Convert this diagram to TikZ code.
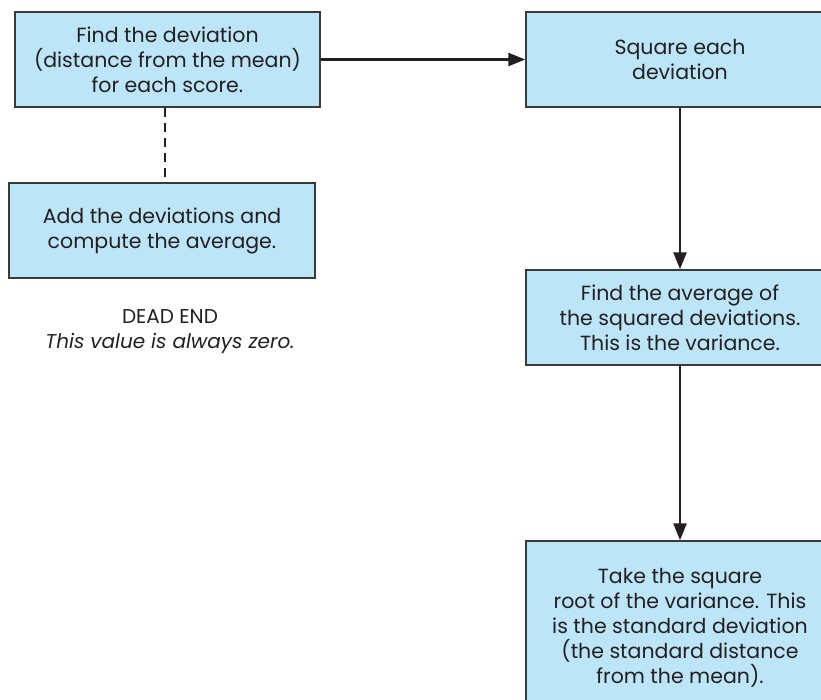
\documentclass[tikz,border=0pt]{standalone}
\usepackage{fontspec}
\setmainfont{Poppins}
\usetikzlibrary{arrows.meta}
\definecolor{boxfill}{HTML}{BDE5F8}
\definecolor{boxline}{HTML}{3A3A3A}
\definecolor{ink}{HTML}{231F20}
\begin{document}
\begin{tikzpicture}[x=1pt,y=-1pt,
  stepbox/.style={draw=boxline, line width=1.5pt, fill=boxfill, text=ink,
    align=center, inner sep=0pt, font=\fontsize{20.5}{25}\selectfont},
  flow/.style={draw=ink, line width=2.6pt, -{Triangle[length=17pt,width=13pt]}},
  dashline/.style={draw=ink, line width=2.6pt, dash pattern=on 9pt off 6pt},
  note/.style={text=ink, align=center, font=\fontsize{20}{25}\selectfont}]
\useasboundingbox (0,0) rectangle (821,699);
\clip (0,0) rectangle (821,699);
\node[stepbox, minimum width=305pt, minimum height=95pt] (dev) at (167.5,59.5)
  {Find the deviation\\(distance from the mean)\\for each score.};
\node[stepbox, minimum width=306pt, minimum height=95pt] (add) at (162,230.5)
  {Add the deviations and\\compute the average.};
\node[stepbox, minimum width=308pt, minimum height=95pt] (sq) at (680,59.5)
  {Square each\\deviation};
\node[stepbox, minimum width=308pt, minimum height=95pt] (avg) at (680,317.5)
  {Find the average of\\the squared deviations.\\This is the variance.};
\node[stepbox, minimum width=308pt, minimum height=174pt] (root) at (680,628)
  {Take the square\\root of the variance. This\\is the standard deviation\\(the standard distance\\from the mean).};
\node[note] (dead) at (170,332) {DEAD END\\\textit{This value is always zero.}};
\draw[flow] (dev.east) -- (sq.west);
\draw[dashline] (dev.south -| 165,0) -- (add.north -| 165,0);
\draw[flow] (sq.south) -- (avg.north);
\draw[flow] (avg.south) -- (root.north);
\end{tikzpicture}
\end{document}
